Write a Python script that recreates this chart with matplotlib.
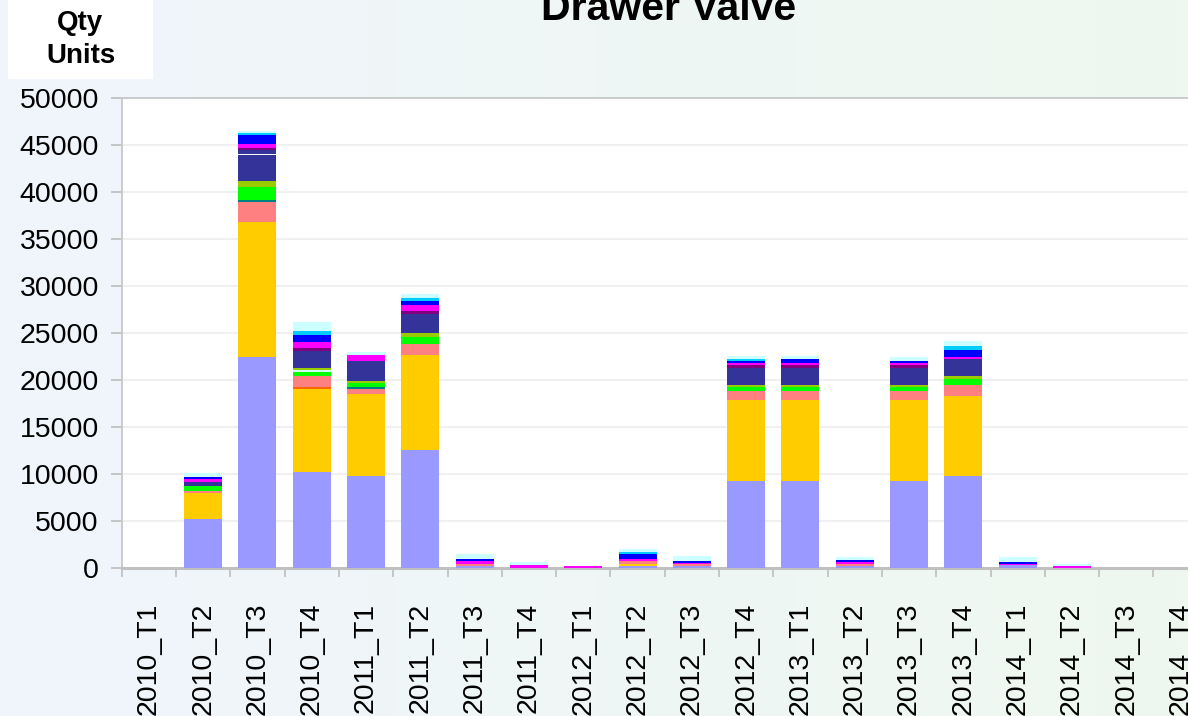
import numpy as np
import matplotlib
matplotlib.use("Agg")
import matplotlib.pyplot as plt
from matplotlib.patches import Rectangle

categories = ["2010_T1", "2010_T2", "2010_T3", "2010_T4", "2011_T1", "2011_T2", "2011_T3",
              "2011_T4", "2012_T1", "2012_T2", "2012_T3", "2012_T4", "2013_T1", "2013_T2",
              "2013_T3", "2013_T4", "2014_T1", "2014_T2", "2014_T3", "2014_T4"]

lavender  = [0, 5200, 22400, 10200, 9800, 12600, 170, 0, 0, 170, 170, 9300, 9300, 210, 9300, 9800, 280, 0, 0, 0]
gold      = [0, 2750, 14450, 8850, 8700, 10050, 0, 0, 0, 210, 0, 8550, 8550, 0, 8550, 8500, 0, 0, 0, 0]
orange    = [0, 0, 0, 210, 0, 0, 0, 0, 0, 0, 0, 0, 0, 0, 0, 0, 0, 0, 0, 0]
salmon    = [0, 210, 2130, 1170, 530, 1170, 210, 0, 0, 390, 210, 960, 960, 180, 960, 1170, 0, 0, 0, 0]
teal      = [0, 0, 210, 0, 210, 0, 0, 0, 0, 0, 0, 0, 0, 0, 0, 0, 0, 0, 0, 0]
green     = [0, 530, 1380, 425, 425, 745, 0, 0, 0, 0, 0, 425, 425, 0, 425, 640, 0, 0, 0, 0]
mint      = [0, 0, 0, 210, 0, 0, 0, 0, 0, 0, 0, 0, 0, 0, 0, 0, 0, 0, 0, 0]
olive     = [0, 0, 640, 210, 210, 425, 0, 0, 0, 0, 0, 210, 210, 0, 210, 320, 0, 0, 0, 0]
navy      = [0, 425, 2770, 1810, 2130, 2020, 0, 0, 0, 0, 0, 1810, 1810, 0, 1810, 1810, 0, 0, 0, 0]
white     = [0, 0, 110, 0, 0, 0, 0, 0, 0, 0, 0, 0, 0, 0, 0, 0, 0, 0, 0, 0]
navy2     = [0, 0, 425, 0, 0, 0, 0, 0, 0, 0, 0, 0, 0, 0, 0, 0, 0, 0, 0, 0]
purple    = [0, 0, 180, 320, 0, 320, 0, 0, 0, 0, 0, 320, 320, 0, 320, 0, 0, 0, 0, 0]
magenta   = [0, 320, 460, 640, 640, 640, 390, 350, 170, 210, 180, 210, 210, 210, 210, 210, 140, 210, 0, 0]
blue      = [0, 210, 960, 745, 0, 425, 210, 0, 0, 530, 210, 210, 425, 210, 210, 745, 180, 0, 0, 0]
sky       = [0, 0, 210, 425, 0, 320, 0, 0, 0, 210, 0, 210, 0, 0, 0, 425, 0, 0, 0, 0]
lightcyan = [0, 425, 210, 960, 320, 425, 530, 320, 0, 320, 530, 320, 320, 320, 425, 530, 530, 210, 0, 0]

series = [lavender, gold, orange, salmon, teal, green, mint, olive, navy, white, navy2,
          purple, magenta, blue, sky, lightcyan]
colors = ["#9999FF", "#FFCC00", "#FF6600", "#FF8080", "#008080", "#00FF00", "#CCFFEE",
          "#99CC00", "#333399", "#FFFFFF", "#333399", "#800080", "#FF00FF", "#0000FF",
          "#00CCFF", "#CCFFFF"]

title = "Drawer Valve"
ylabel_lines = ["Qty", "Units"]

W, H = 1188, 716
fig = plt.figure(figsize=(W / 100, H / 100), dpi=100)

# background gradient
bg = fig.add_axes([0, 0, 1, 1], zorder=-10)
c1 = np.array(matplotlib.colors.to_rgb("#F0F5FC"))
c2 = np.array(matplotlib.colors.to_rgb("#EEF8EF"))
t = np.linspace(0, 1, 256)[None, :, None]
grad = c1 * (1 - t) + c2 * t
bg.imshow(grad, aspect="auto", extent=[0, 1, 0, 1])
bg.axis("off")

font = "Liberation Sans"
ax = fig.add_axes([121.7 / W, 148 / H, 1086 / W, 470 / H], zorder=1)
ax.set_facecolor("white")

x = np.arange(len(categories))
bottom = np.zeros(len(categories))
for vals, col in zip(series, colors):
    v = np.array(vals, dtype=float)
    ax.bar(x, v, 0.7, bottom=bottom, color=col, linewidth=0, zorder=3)
    bottom += v

ax.set_xlim(-0.5, len(categories) - 0.5)
ax.set_ylim(0, 50000)
ax.set_yticks(np.arange(0, 50001, 5000))
ax.yaxis.grid(True, color="#F0F0F0", linewidth=1.5, zorder=0)
ax.set_axisbelow(True)

ax.set_xticks(x)
ax.set_xticklabels(categories, rotation=90, va="top", ha="center",
                   fontsize=20.5, family=font)
ax.set_xticks(np.arange(-0.5, len(categories), 1.0), minor=True)
for lab in ax.get_yticklabels():
    lab.set_fontfamily(font)
    lab.set_fontsize(20.5)

ax.tick_params(axis="x", which="major", length=0, pad=25)
ax.tick_params(axis="x", which="minor", direction="out", length=6.5, width=1.2, color="#BDBDBD")
ax.tick_params(axis="y", direction="out", length=7.9, width=1.2, color="#BDBDBD", pad=8.6)

for side in ["left", "top", "right"]:
    ax.spines[side].set_color("#C8C8C8")
    ax.spines[side].set_linewidth(1.3)
ax.spines["bottom"].set_color("#C0C0C0")
ax.spines["bottom"].set_linewidth(2.2)

fig.text(669 / W, 1 - 20 / H, title, ha="center", va="baseline",
         fontsize=29.5, family=font, fontweight="bold", color="black")

fig.patches.append(Rectangle((8 / W, 1 - 79 / H), 145 / W, 79 / H,
                             transform=fig.transFigure, facecolor="white",
                             edgecolor="none", zorder=0))
fig.text(80 / W, 1 - 30 / H, ylabel_lines[0], ha="center", va="baseline",
         fontsize=20, family=font, fontweight="bold")
fig.text(80.5 / W, 1 - 63 / H, ylabel_lines[1], ha="center", va="baseline",
         fontsize=20, family=font, fontweight="bold")

fig.savefig("out.png", dpi=100)
